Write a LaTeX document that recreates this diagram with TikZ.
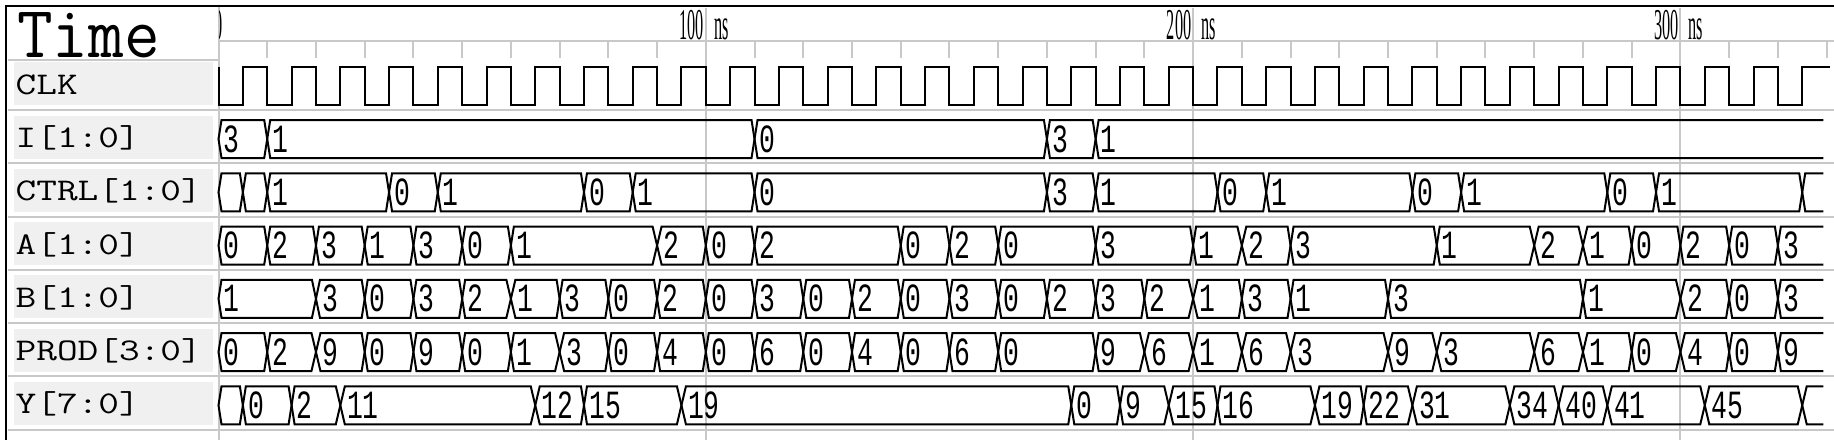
\documentclass[tikz,border=0pt]{standalone}
\usepackage{fontspec}
\newfontfamily\digfont{Liberation Mono}
\newfontfamily\hdrfont{Liberation Serif}
\definecolor{gridgray}{HTML}{C8C8C8}
\definecolor{boxgray}{HTML}{F0F0F0}
\newcommand\dg[1]{\scalebox{0.66}[1]{#1}}
\newcommand\hs[1]{\scalebox{0.37}[1]{#1}}
\tikzset{
  wave/.style={line width=2pt, black, line join=miter},
  gridln/.style={line width=2pt, gridgray},
  frameln/.style={line width=2pt, black},
  val/.style={anchor=base west, inner sep=0pt, font=\digfont\fontsize{40}{40}\selectfont},
  hdr/.style={inner sep=0pt, font=\hdrfont\fontsize{44}{44}\selectfont},
  lbl/.style={anchor=base west, inner sep=0pt, font=\ttfamily\fontsize{31.6}{32}\selectfont},
  lblbox/.style={fill=boxgray, draw=none}
}
% #1 row centre, #2 row name, #3 list of time/halfwidth/label
\newcommand\busrow[3]{%
  \foreach \ta/\wa/\la [remember=\ta as \tb (initially -100), remember=\wa as \wb (initially 3), remember=\la as \lb (initially 0)] in {#3}{%
    \ifdim\tb pt>-1pt
      \draw[wave] (218.5+4.873*\tb,#1) -- ++(\wb,-19) -- (218.5+4.873*\ta-\wa,#1-19) -- (218.5+4.873*\ta,#1) -- (218.5+4.873*\ta-\wa,#1+19) -- (218.5+4.873*\tb+\wb,#1+19) -- cycle;
      \node[val] (#2-\tb) at (218.5+4.873*\tb+\wb+2,#1+13) {\dg{\lb}};
    \fi
  }%
}
\begin{document}
\begin{tikzpicture}[x=1pt,y=-1pt]
\useasboundingbox (0,0) rectangle (1834,440);
\fill[white] (0,0) rectangle (1834,440);

% label boxes
\foreach \c/\n in {85.7/CLK,139/I,192.3/CTRL,245.5/A,298.8/B,352/PROD,405.3/Y}{
  \fill[lblbox] (14,\c-23.5) rectangle (212.7,\c+19.5);
  \draw[gridln] (8,\c+24.3) -- (1834,\c+24.3);
}
\draw[gridln] (8,60) -- (218.5,60);

% time ruler
\draw[gridln] (218.5,41) -- (1834,41);
\foreach \i in {1,...,33}{
  \draw[gridln] (218.5+48.73*\i,41) -- (218.5+48.73*\i,58);
}
\foreach \i in {1,2,3}{
  \draw[gridln] (218.5+487.3*\i,8) -- (218.5+487.3*\i,440);
}
\draw[gridln] (218.5,6) -- (218.5,440);

% frame
\draw[frameln] (6,6) -- (1834,6);
\draw[frameln] (6,5) -- (6,440);

% header
\node[anchor=base west, inner sep=0pt, font=\ttfamily\fontsize{73.6}{74}\selectfont] (time) at (17,57.5) {\scalebox{0.94}[1]{Time}};
\begin{scope}
  \clip (219.5,8) rectangle (240,41);
  \node[hdr, anchor=base east] (t0) at (223,39.3) {\hs{0}};
\end{scope}
\foreach \i in {1,2,3}{
  \node[hdr, anchor=base east] (t\i) at (218.5+487.3*\i-1.5,39.3) {\hs{\i00}};
  \node[hdr, anchor=base west] (ns\i) at (218.5+487.3*\i+8,39.3) {\hs{ns}};
}

% signal names
\node[lbl] (nCLK) at (15.5,94.3) {\scalebox{1.27}[1]{CLK}};
\node[lbl] (nI) at (15.5,147.6) {\scalebox{1.27}[1]{I[1:0]}};
\node[lbl] (nCTRL) at (15.5,200.9) {\scalebox{1.27}[1]{CTRL[1:0]}};
\node[lbl] (nA) at (15.5,254.1) {\scalebox{1.27}[1]{A[1:0]}};
\node[lbl] (nB) at (15.5,307.4) {\scalebox{1.27}[1]{B[1:0]}};
\node[lbl] (nPROD) at (15.5,360.6) {\scalebox{1.27}[1]{PROD[3:0]}};
\node[lbl] (nY) at (15.5,413.9) {\scalebox{1.27}[1]{Y[7:0]}};

% clock
\begin{scope}
  \clip (210,50) rectangle (1830,110);
  \draw[wave] (218.5,66.7) -- (218.5,104.7)
    \foreach \i in {0,...,31}{ -- (218.5+48.73*\i+24.365,104.7) -- (218.5+48.73*\i+24.365,66.7) -- (218.5+48.73*\i+48.73,66.7) -- (218.5+48.73*\i+48.73,104.7) }
    -- (218.5+4.873*325,104.7) -- (218.5+4.873*325,66.7) -- (1830,66.7);
\end{scope}

% buses
\begin{scope}
  \clip (210,110) rectangle (1823.3,440);
  \busrow{139}{I}{0/3/3, 10/3/1, 110/3/0, 170/3/3, 180/3/1, 340/3/{}}
  \busrow{192.3}{CTRL}{0/3/{}, 5/3/{}, 10/3/1, 35/3/0, 45/3/1, 75/3/0, 85/3/1, 110/3/0, 170/3/3, 180/3/1, 205/3/0, 215/3/1, 245/3/0, 255/3/1, 285/3/0, 295/3/1, 325/3/{}, 340/3/{}}
  \busrow{245.5}{A}{0/3/0, 10/3/2, 20/3/3, 30/3/1, 40/3/3, 50/3/0, 60/3/1, 90/4.5/2, 100/3/0, 110/3/2, 140/3/0, 150/3/2, 160/3/0, 180/3/3, 200/3/1, 210/4.5/2, 220/3/3, 250/3/1, 270/4.5/2, 280/4.5/1, 290/3/0, 300/3/2, 310/3/0, 320/3/3, 340/3/{}}
  \busrow{298.8}{B}{0/3/1, 20/4/3, 30/3/0, 40/3/3, 50/3/2, 60/4.5/1, 70/3/3, 80/3/0, 90/3/2, 100/3/0, 110/3/3, 120/3/0, 130/3/2, 140/3/0, 150/3/3, 160/3/0, 170/3/2, 180/3/3, 190/3/2, 200/4.5/1, 210/3/3, 220/3/1, 240/3/3, 280/3/1, 300/4.5/2, 310/3/0, 320/3/3, 340/3/{}}
  \busrow{352}{PROD}{0/3/0, 10/3/2, 20/4.5/9, 30/3/0, 40/3/9, 50/3/0, 60/3/1, 70/4.5/3, 80/3/0, 90/3/4, 100/3/0, 110/3/6, 120/3/0, 130/3/4, 140/3/0, 150/3/6, 160/3/0, 180/3/9, 190/4.5/6, 200/4.5/1, 210/4.5/6, 220/4.5/3, 240/4.5/9, 250/4.5/3, 270/4.5/6, 280/4.5/1, 290/3/0, 300/4.5/4, 310/3/0, 320/3/9, 340/3/{}}
  \busrow{405.3}{Y}{0/3/{}, 5/3/0, 15/3/2, 25/4.5/11, 65/4.5/12, 75/3/15, 95/4.5/19, 175/3/0, 185/3/9, 195/4.5/15, 205/3/16, 225/4.5/19, 235/3/22, 245/4.5/31, 265/4.5/34, 275/4.5/40, 285/4.5/41, 305/4.5/45, 325/4.5/{}, 340/3/{}}
\end{scope}
\end{tikzpicture}
\end{document}
